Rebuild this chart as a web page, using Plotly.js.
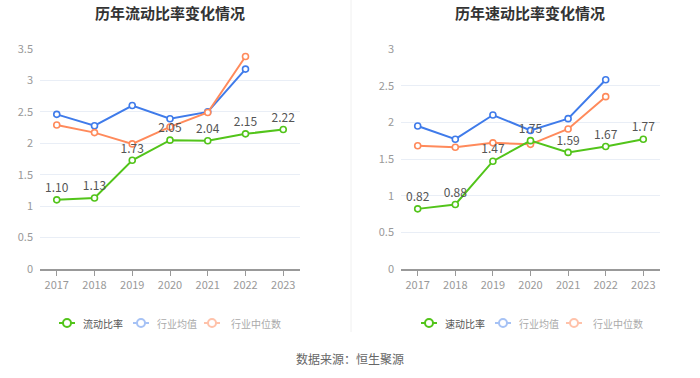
<!DOCTYPE html>
<html><head><meta charset="utf-8">
<script src="https://cdn.plot.ly/plotly-3.0.1.min.js"></script>
<style>html,body{margin:0;padding:0;background:#fff}#c{width:700px;height:378px}</style>
</head><body><div id="c"></div>
<script>
const years = ['2017','2018','2019','2020','2021','2022','2023'];
const currentRatio = [1.10, 1.13, 1.73, 2.05, 2.04, 2.15, 2.22];
const currentIndAvg = [2.46, 2.28, 2.60, 2.39, 2.50, 3.18, null];
const currentIndMed = [2.29, 2.17, 1.99, 2.26, 2.49, 3.38, null];
const quickRatio = [0.82, 0.88, 1.47, 1.75, 1.59, 1.67, 1.77];
const quickIndAvg = [1.95, 1.77, 2.10, 1.89, 2.05, 2.58, null];
const quickIndMed = [1.68, 1.66, 1.72, 1.70, 1.91, 2.35, null];
const leftTitle = '历年流动比率变化情况';
const rightTitle = '历年速动比率变化情况';
const leftLegend = ['流动比率', '行业均值', '行业中位数'];
const rightLegend = ['速动比率', '行业均值', '行业中位数'];
const source = '数据来源：恒生聚源';

const GREEN = '#52c41a', BLUE = '#3f7bea', ORANGE = '#ff8a5b';
const FADED_BLUE = '#a6c2f5', FADED_ORANGE = '#ffc2aa';
const FONT = 'Noto Sans CJK SC, sans-serif';
const W = 700, H = 378;

function line(x, y, color, xa, ya, withText) {
  return {
    x: x, y: y, xaxis: xa, yaxis: ya, type: 'scatter',
    mode: withText ? 'lines+markers+text' : 'lines+markers',
    text: withText ? y.map(v => v.toFixed(2)) : undefined,
    textposition: 'top center',
    textfont: {color: '#555', size: 12, family: FONT},
    line: {color: color, width: 2},
    marker: {symbol: 'circle', size: 6, color: '#fff', line: {color: color, width: 1.6}},
    showlegend: false, hoverinfo: 'skip', cliponaxis: false
  };
}

const traces = [
  line(years, currentIndAvg, BLUE, 'x', 'y', false),
  line(years, currentIndMed, ORANGE, 'x', 'y', false),
  line(years, currentRatio, GREEN, 'x', 'y', true),
  line(years, quickIndAvg, BLUE, 'x2', 'y2', false),
  line(years, quickIndMed, ORANGE, 'x2', 'y2', false),
  line(years, quickRatio, GREEN, 'x2', 'y2', true)
];

const shapes = [
  {type: 'line', xref: 'paper', yref: 'paper', x0: 351/W, x1: 351/W, y0: 1 - 332/H, y1: 1, line: {color: '#f0f0f0', width: 1}}
];
const annotations = [
  {text: '<b>' + leftTitle + '</b>', xref: 'paper', yref: 'paper', x: 170/W, y: 1 - 12/H, xanchor: 'center', yanchor: 'middle', showarrow: false, font: {size: 15, color: '#333', family: FONT}},
  {text: '<b>' + rightTitle + '</b>', xref: 'paper', yref: 'paper', x: 530/W, y: 1 - 12/H, xanchor: 'center', yanchor: 'middle', showarrow: false, font: {size: 15, color: '#333', family: FONT}},
  {text: source, xref: 'paper', yref: 'paper', x: 0.5, y: 1 - 358/H, xanchor: 'center', yanchor: 'middle', showarrow: false, font: {size: 12, color: '#666', family: FONT}}
];

// manual legends (icon: short line with hollow circle)
function addLegend(startX, names, colors, textColors, iconStarts, textStarts) {
  const cy = 323;
  for (let i = 0; i < names.length; i++) {
    const x0 = startX + iconStarts[i], x1 = x0 + 16, cx = x0 + 8;
    shapes.push({type: 'line', xref: 'paper', yref: 'paper', x0: x0/W, x1: x1/W, y0: 1 - cy/H, y1: 1 - cy/H, line: {color: colors[i], width: 2}});
    shapes.push({type: 'circle', xref: 'paper', yref: 'paper', x0: (cx-4)/W, x1: (cx+4)/W, y0: 1 - (cy+4)/H, y1: 1 - (cy-4)/H, fillcolor: '#fff', line: {color: colors[i], width: 2}});
    annotations.push({text: names[i], xref: 'paper', yref: 'paper', x: (startX + textStarts[i])/W, y: 1 - cy/H, xanchor: 'left', yanchor: 'middle', showarrow: false, font: {size: 10, color: textColors[i], family: FONT}});
  }
}
const iconStarts = [0, 74, 145];
const textStarts = [22, 96, 170];
addLegend(59, leftLegend, [GREEN, FADED_BLUE, FADED_ORANGE], ['#555', '#aaa', '#aaa'], iconStarts, textStarts);
addLegend(421, rightLegend, [GREEN, FADED_BLUE, FADED_ORANGE], ['#555', '#aaa', '#aaa'], iconStarts, textStarts);

const xaxisBase = {
  type: 'category', showgrid: false, showline: true, linecolor: '#999', linewidth: 2,
  ticks: 'outside', ticklen: 5, tickcolor: '#999', tickfont: {size: 11, color: '#999', family: FONT},
  zeroline: false, fixedrange: true
};
const yaxisBase = {
  showgrid: true, gridcolor: '#e9eef6', gridwidth: 1, zeroline: false, showline: false,
  ticks: '', tickfont: {size: 11, color: '#999', family: FONT}, ticklabelstandoff: 6, fixedrange: true
};
const yDom = [1 - 269/H, 1 - 49/H];
const layout = {
  width: W, height: H, margin: {l: 0, r: 0, t: 0, b: 0},
  paper_bgcolor: '#fff', plot_bgcolor: '#fff', font: {family: FONT},
  showlegend: false,
  xaxis: Object.assign({}, xaxisBase, {domain: [40/W, 300/W], anchor: 'y'}),
  yaxis: Object.assign({}, yaxisBase, {domain: yDom, range: [0, 3.5], dtick: 0.5, anchor: 'x'}),
  xaxis2: Object.assign({}, xaxisBase, {domain: [401/W, 660/W], anchor: 'y2'}),
  yaxis2: Object.assign({}, yaxisBase, {domain: yDom, range: [0, 3], dtick: 0.5, anchor: 'x2'}),
  annotations: annotations,
  shapes: shapes
};
Plotly.newPlot('c', traces, layout, {staticPlot: true, displayModeBar: false});
</script></body></html>
